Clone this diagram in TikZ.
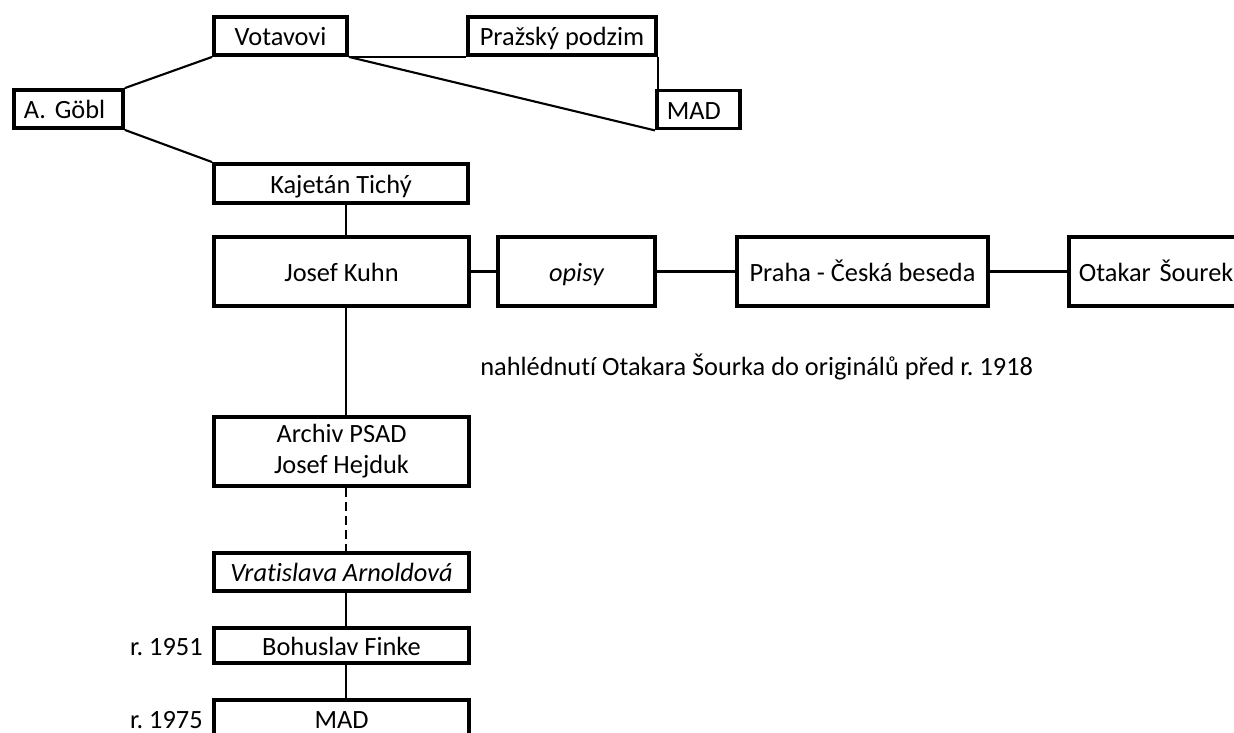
\documentclass[tikz,border=0pt]{standalone}
\usepackage{fontspec}
\setmainfont{Carlito}[Ligatures=NoCommon]

\begin{document}
\frenchspacing
\begin{tikzpicture}[x=0.02cm, y=-0.02cm,
	box/.style={draw, line width=2.2pt, minimum height=0.76cm, inner sep=0pt, text height=14pt, text depth=3pt, font=\fontsize{15}{17.6}\selectfont},
	tallbox/.style={box, minimum height=1.38cm},
	leftbox/.style={anchor=west, inner xsep=0.2cm, align=left},
	link/.style={line width=1.2pt},
	note/.style={inner sep=0pt, font=\fontsize{15}{17.6}\selectfont}]

	% page
	\useasboundingbox (0,0) rectangle (1234,733);
	\clip (0,0) rectangle (1234,733);
	\coordinate (spine) at (346,0);

	% boxes
	\node[box, leftbox, text width=1.78cm] (gobl) at (12,109) {A. Göbl};
	\node[box, minimum width=2.66cm] (votavovi) at (280.5,36) {Votavovi};
	\node[box, minimum width=3.76cm] (podzim) at (562,36) {Pražský podzim};
	\node[box, leftbox, text width=1.26cm] (madtop) at (655,109.5) {MAD};
	\node[box, minimum width=5.08cm, minimum height=0.78cm] (tichy) at (341,183.5) {Kajetán Tichý};
	\node[tallbox, minimum width=5.1cm] (kuhn) at (341.5,271.5) {Josef Kuhn};
	\node[tallbox, minimum width=3.14cm] (opisy) at (576.5,271.5) {\itshape opisy};
	\node[tallbox, minimum width=5.02cm] (beseda) at (862.5,271.5) {Praha - Česká beseda};
	\node[tallbox, leftbox, text width=3.8cm] (sourek) at (1067,271.5) {Otakar Šourek};
	\node[tallbox, minimum width=5.1cm, align=center, text height={}, text depth={}] (archiv) at (341.5,451.5) {Archiv PSAD\\Josef Hejduk};
	\node[box, minimum width=5.1cm] (arnoldova) at (341.5,572) {\itshape Vratislava Arnoldová};
	\node[box, minimum width=5.1cm, minimum height=0.7cm] (finke) at (341.5,645.5) {Bohuslav Finke};
	\node[box, minimum width=5.1cm] (madbottom) at (341.5,719) {MAD};

	% notes
	\node[note, anchor=base west] (nahled) at (480,375) {nahlédnutí Otakara Šourka do originálů před r. 1918};
	\node[note, anchor=base east] (rok51) at (203,655) {r. 1951};
	\node[note, anchor=base east] (rok75) at (203,728) {r. 1975};

	% lines
	\draw[link] (gobl.north east) -- (votavovi.south west);
	\draw[link] (gobl.south east) -- (tichy.north west);
	\draw[link] (votavovi.south east) -- (podzim.south west);
	\draw[link] (votavovi.south east) -- (madtop.south west);
	\draw[link] (podzim.south east) -- (podzim.south east |- madtop.north);
	\draw[link] (tichy.south -| spine) -- (kuhn.north -| spine);
	\draw[link] (kuhn) -- (opisy);
	\draw[link] (opisy) -- (beseda);
	\draw[link] (beseda) -- (sourek);
	\draw[link] (kuhn.south -| spine) -- (archiv.north -| spine);
	\draw[link, dash pattern=on 5pt off 3pt] (archiv.south -| spine) -- (arnoldova.north -| spine);
	\draw[link] (arnoldova.south -| spine) -- (finke.north -| spine);
	\draw[link] (finke.south -| spine) -- (madbottom.north -| spine);

\end{tikzpicture}
\end{document}
